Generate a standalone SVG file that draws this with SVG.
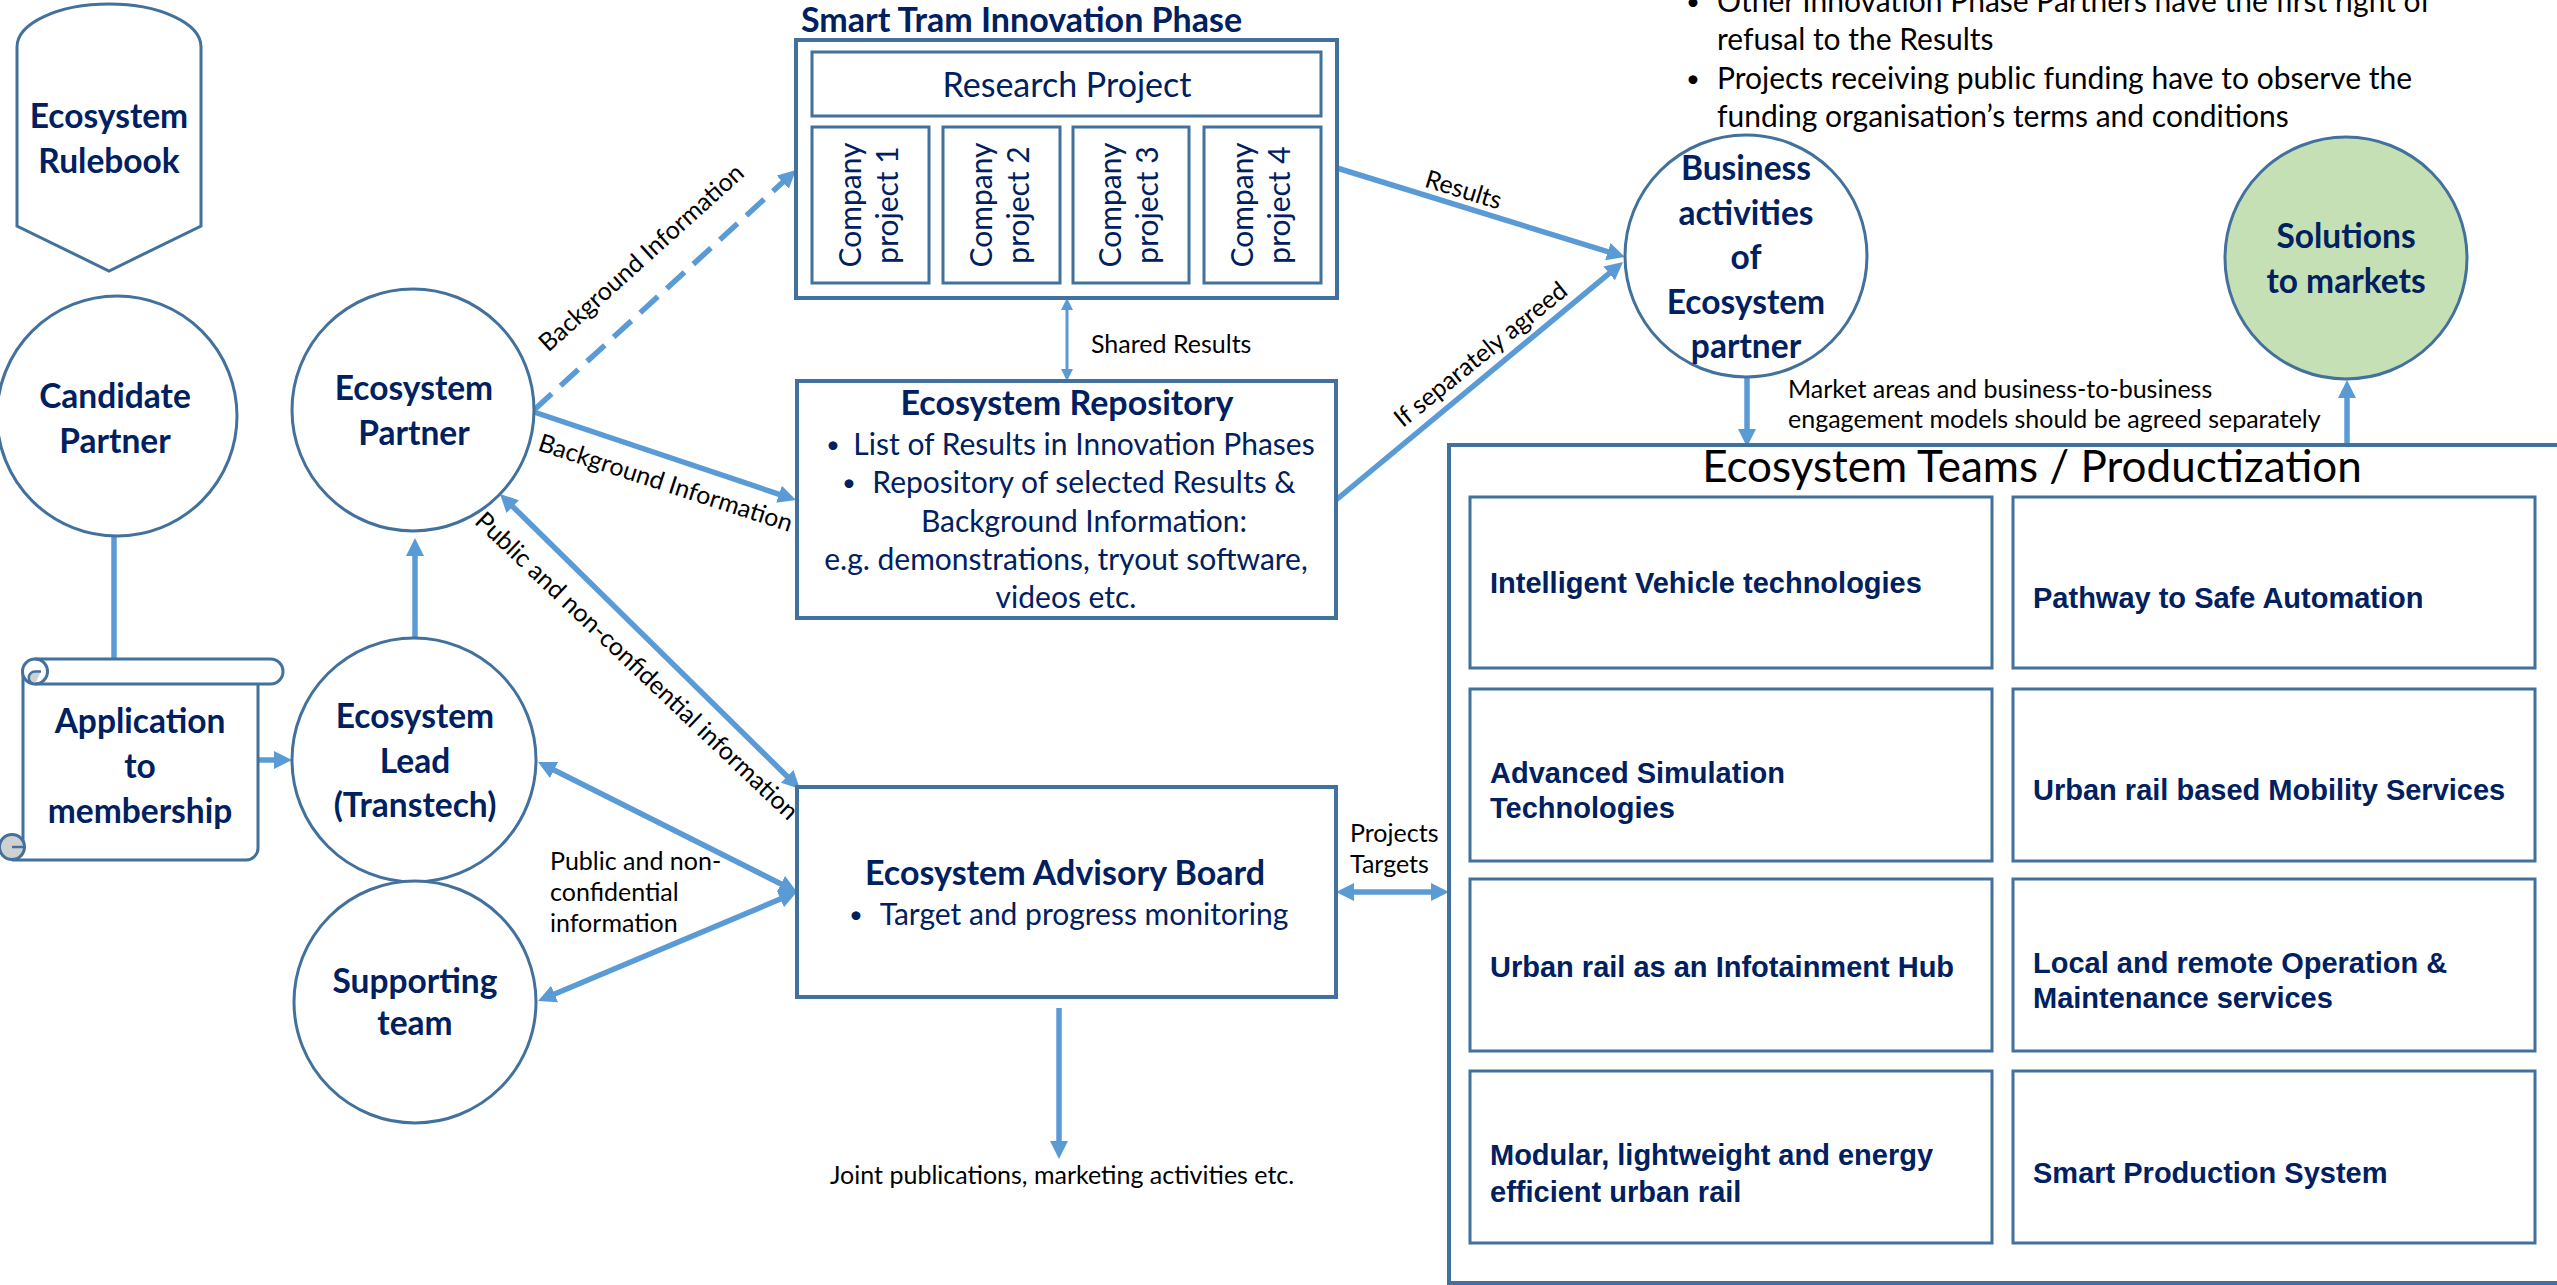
<svg xmlns="http://www.w3.org/2000/svg" width="2557" height="1285" viewBox="0 0 2557 1285">
<defs>
<style>
.nd{fill:#fff;stroke:#41719C;stroke-width:3}
.bx{fill:#fff;stroke:#41719C;stroke-width:4}
.cn{stroke:#5B9BD5;stroke-width:5.5;fill:none}
.nl{font-family:Lato,'Open Sans',sans-serif;font-weight:700;font-size:33.5px;fill:#002060;text-anchor:middle}
.hd{font-family:Lato,'Open Sans',sans-serif;font-weight:700;font-size:34px;fill:#002060}
.bd{font-family:Lato,'Open Sans',sans-serif;font-size:30px;fill:#002060}
.bk{font-family:Lato,'Open Sans',sans-serif;font-size:30px;fill:#000}
.bu{font-size:24px}
.lb{font-family:Lato,'Open Sans',sans-serif;font-size:25px;fill:#000}
.tm{font-family:'Liberation Sans',Arial,sans-serif;font-weight:700;font-size:29px;fill:#002060}
.mid{text-anchor:middle}
</style>
<marker id="ah" markerUnits="userSpaceOnUse" viewBox="0 0 18 18" markerWidth="18" markerHeight="18" refX="9" refY="9" orient="auto-start-reverse"><path d="M0,0 L18,9 L0,18 z" fill="#5B9BD5"/></marker>
<marker id="ahs" markerUnits="userSpaceOnUse" viewBox="0 0 12 12" markerWidth="12" markerHeight="12" refX="6" refY="6" orient="auto-start-reverse"><path d="M0,0 L12,6 L0,12 z" fill="#5B9BD5"/></marker>
</defs>
<rect width="2557" height="1285" fill="#fff"/>

<g id="connectors">
<line class="cn" x1="114" y1="537" x2="114" y2="659"/>
<line class="cn" x1="258" y1="760" x2="283" y2="760" marker-end="url(#ah)"/>
<line class="cn" x1="415" y1="638" x2="415" y2="547" marker-end="url(#ah)"/>
<line class="cn" x1="534" y1="412" x2="787.5" y2="497.1" marker-end="url(#ah)"/>
<line class="cn" x1="534" y1="410" x2="789.4" y2="176.1" stroke-dasharray="24 12" marker-end="url(#ah)"/>
<line class="cn" x1="506.4" y1="500.3" x2="793.6" y2="782.7" marker-start="url(#ah)" marker-end="url(#ah)"/>
<line class="cn" x1="546" y1="766" x2="789" y2="888" marker-start="url(#ah)" marker-end="url(#ah)"/>
<line class="cn" x1="546.3" y1="997.5" x2="788.7" y2="895.5" marker-start="url(#ah)" marker-end="url(#ah)"/>
<line class="cn" style="stroke-width:3" x1="1067" y1="304" x2="1067" y2="375" marker-start="url(#ahs)" marker-end="url(#ahs)"/>
<line class="cn" x1="1337" y1="168" x2="1616.4" y2="254.3" marker-end="url(#ah)"/>
<line class="cn" x1="1336" y1="500" x2="1616.1" y2="267.7" marker-end="url(#ah)"/>
<line class="cn" x1="1747" y1="378" x2="1747" y2="438" marker-end="url(#ah)"/>
<line class="cn" x1="2347" y1="445" x2="2347" y2="389" marker-end="url(#ah)"/>
<line class="cn" x1="1059" y1="1008" x2="1059" y2="1150" marker-end="url(#ah)"/>
<line class="cn" x1="1345" y1="892" x2="1440" y2="892" marker-start="url(#ah)" marker-end="url(#ah)"/>

<text class="lb mid" transform="translate(647,264) rotate(-42)">Background Information</text>
<text class="lb mid" transform="translate(663,491) rotate(18)">Background Information</text>
<text class="lb mid" transform="translate(631,672) rotate(43.5)">Public and non-confidential information</text>
<text class="lb mid" transform="translate(1461,198) rotate(17)">Results</text>
<text class="lb mid" transform="translate(1486,361) rotate(-39)">If separately agreed</text>
<text class="lb" x="1091" y="353">Shared Results</text>
<text class="lb" x="550" y="870">Public and non-<tspan x="550" y="901">confidential</tspan><tspan x="550" y="932">information</tspan></text>
<text class="lb" x="1350" y="842">Projects<tspan x="1350" y="873">Targets</tspan></text>
<text class="lb" x="830" y="1184">Joint publications, marketing activities etc.</text>
<text class="lb" x="1788" y="398">Market areas and business-to-business<tspan x="1788" y="428">engagement models should be agreed separately</tspan></text>
</g>

<g id="notes">
<text class="bk bu" x="1686" y="10">•</text><text class="bk" x="1717" y="12">Other Innovation Phase Partners have the first right of</text>
<text class="bk" x="1717" y="50">refusal to the Results</text>
<text class="bk bu" x="1686" y="87">•</text><text class="bk" x="1717" y="89">Projects receiving public funding have to observe the</text>
<text class="bk" x="1717" y="127">funding organisation’s terms and conditions</text>
</g>

<g id="rulebook">
<path class="nd" d="M17,47 A92,43 0 0 1 201,47 V226 L109,271 L17,226 Z"/>
<text class="nl" x="109" y="128">Ecosystem<tspan x="109" y="173">Rulebook</tspan></text>
</g>

<g id="candidate-partner">
<circle class="nd" cx="117" cy="416" r="120"/>
<text class="nl" x="115" y="408">Candidate<tspan x="115" y="453">Partner</tspan></text>
</g>

<g id="ecosystem-partner">
<circle class="nd" cx="413" cy="410" r="121"/>
<text class="nl" x="414" y="400">Ecosystem<tspan x="414" y="445">Partner</tspan></text>
</g>

<g id="application">
<rect x="23" y="684" width="235" height="164" fill="#fff"/>
<path class="nd" d="M23,671 V848 M12,860 H246 A12,12 0 0 0 258,848 V684" style="fill:none"/>
<circle cx="12" cy="847" r="12.5" fill="#D0D0D0" stroke="#41719C" stroke-width="3"/>
<path d="M12,847 H23" stroke="#41719C" stroke-width="2.5" fill="none"/>
<path class="nd" d="M35,659 H270.5 A12.5,12.5 0 0 1 270.5,684 H35 A12.5,12.5 0 0 1 35,659 Z"/>
<path d="M35,684 A6.25,6.25 0 0 1 35,671.5 H41" fill="#D0D0D0" stroke="#41719C" stroke-width="2.5"/>
<path d="M35,659 A12.5,12.5 0 0 1 35,684" fill="none" stroke="#41719C" stroke-width="3"/>
<text class="nl" x="140" y="733">Application<tspan x="140" y="778">to</tspan><tspan x="140" y="823">membership</tspan></text>
</g>

<g id="ecosystem-lead">
<circle class="nd" cx="414" cy="760" r="122"/>
<text class="nl" x="415" y="728">Ecosystem<tspan x="415" y="773">Lead</tspan><tspan x="415" y="817">(Transtech)</tspan></text>
</g>

<g id="supporting-team">
<circle class="nd" cx="415" cy="1002" r="121"/>
<text class="nl" x="415" y="993">Supporting<tspan x="415" y="1035">team</tspan></text>
</g>

<g id="smart-tram">
<text class="hd" x="801" y="32">Smart Tram Innovation Phase</text>
<rect class="bx" x="796" y="40" width="541" height="258"/>
<rect class="nd" x="812" y="52" width="509" height="64"/>
<text class="bd mid" x="1067" y="97" style="font-size:34px">Research Project</text>
<rect class="nd" x="812" y="127" width="117" height="156"/>
<rect class="nd" x="943" y="127" width="117" height="156"/>
<rect class="nd" x="1073" y="127" width="116" height="156"/>
<rect class="nd" x="1204" y="127" width="117" height="156"/>
<text class="bd mid" transform="translate(870.5,205) rotate(-90)"><tspan x="0" y="-10">Company</tspan><tspan x="0" y="27">project 1</tspan></text>
<text class="bd mid" transform="translate(1001.5,205) rotate(-90)"><tspan x="0" y="-10">Company</tspan><tspan x="0" y="27">project 2</tspan></text>
<text class="bd mid" transform="translate(1131,205) rotate(-90)"><tspan x="0" y="-10">Company</tspan><tspan x="0" y="27">project 3</tspan></text>
<text class="bd mid" transform="translate(1262.5,205) rotate(-90)"><tspan x="0" y="-10">Company</tspan><tspan x="0" y="27">project 4</tspan></text>
</g>

<g id="repository">
<rect class="bx" x="797" y="381" width="539" height="237"/>
<text class="hd mid" x="1067" y="415">Ecosystem Repository</text>
<text class="bd bu" x="826" y="453">•</text><text class="bd mid" x="1084" y="455">List of Results in Innovation Phases</text>
<text class="bd bu" x="842" y="491">•</text><text class="bd mid" x="1084" y="493">Repository of selected Results &amp;</text>
<text class="bd mid" x="1084" y="532">Background Information:</text>
<text class="bd mid" x="1066" y="570">e.g. demonstrations, tryout software,</text>
<text class="bd mid" x="1066" y="608">videos etc.</text>
</g>

<g id="advisory-board">
<rect class="bx" x="797" y="787" width="539" height="210"/>
<text class="hd mid" x="1065" y="885">Ecosystem Advisory Board</text>
<text class="bd bu" x="849" y="923">•</text><text class="bd mid" x="1084" y="925">Target and progress monitoring</text>
</g>

<g id="business-activities">
<circle class="nd" cx="1746" cy="256" r="121"/>
<text class="nl" x="1746" y="180">Business<tspan x="1746" y="225">activities</tspan><tspan x="1746" y="269">of</tspan><tspan x="1746" y="314">Ecosystem</tspan><tspan x="1746" y="358">partner</tspan></text>
</g>

<g id="solutions">
<circle class="nd" cx="2346" cy="258" r="121" style="fill:#C5E0B4"/>
<text class="nl" x="2346" y="248">Solutions<tspan x="2346" y="293">to markets</tspan></text>
</g>

<g id="ecosystem-teams">
<rect class="bx" x="1449" y="445" width="1200" height="838"/>
<text class="bk mid" x="2032" y="482" style="font-size:44px">Ecosystem Teams / Productization</text>
</g>
<g id="team-1"><rect class="nd" x="1470" y="497" width="522" height="171"/><text class="tm" x="1490" y="593">Intelligent Vehicle technologies</text></g>
<g id="team-2"><rect class="nd" x="2013" y="497" width="522" height="171"/><text class="tm" x="2033" y="608">Pathway to Safe Automation</text></g>
<g id="team-3"><rect class="nd" x="1470" y="689" width="522" height="172"/><text class="tm" x="1490" y="783">Advanced Simulation<tspan x="1490" y="818">Technologies</tspan></text></g>
<g id="team-4"><rect class="nd" x="2013" y="689" width="522" height="172"/><text class="tm" x="2033" y="800">Urban rail based Mobility Services</text></g>
<g id="team-5"><rect class="nd" x="1470" y="879" width="522" height="172"/><text class="tm" x="1490" y="977">Urban rail as an Infotainment Hub</text></g>
<g id="team-6"><rect class="nd" x="2013" y="879" width="522" height="172"/><text class="tm" x="2033" y="973">Local and remote Operation &amp;<tspan x="2033" y="1008">Maintenance services</tspan></text></g>
<g id="team-7"><rect class="nd" x="1470" y="1071" width="522" height="172"/><text class="tm" x="1490" y="1165">Modular, lightweight and energy<tspan x="1490" y="1202">efficient urban rail</tspan></text></g>
<g id="team-8"><rect class="nd" x="2013" y="1071" width="522" height="172"/><text class="tm" x="2033" y="1183">Smart Production System</text></g>
</svg>
